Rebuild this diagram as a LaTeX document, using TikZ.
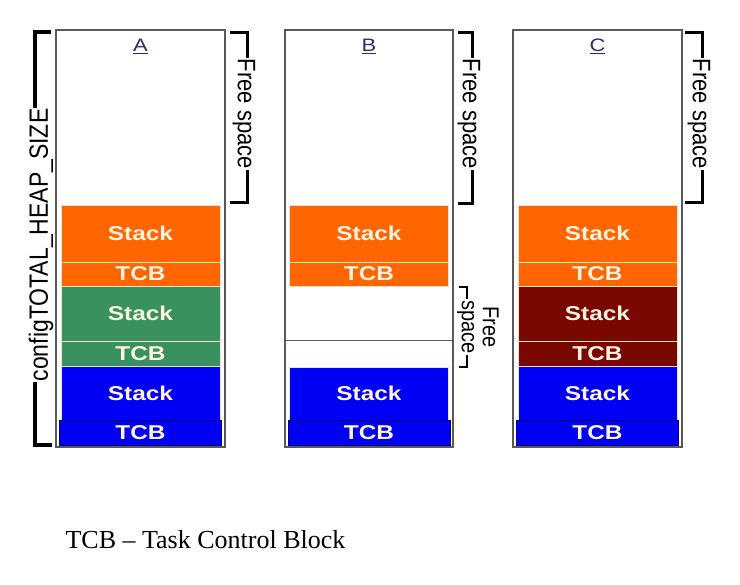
\documentclass[tikz,border=0pt]{standalone}
\usepackage{fontspec}
\setmainfont{Liberation Serif}
\setsansfont{Liberation Sans}
\usetikzlibrary{positioning}

\definecolor{taskorange}{RGB}{255,102,0}
\definecolor{taskgreen}{RGB}{58,145,96}
\definecolor{taskred}{RGB}{122,8,0}
\definecolor{taskblue}{RGB}{0,0,245}
\definecolor{tasknavy}{RGB}{0,0,120}
\definecolor{labelcream}{RGB}{255,244,228}
\definecolor{labelnavy}{RGB}{40,44,120}

% text is stretched sideways in the picture
\newcommand{\wtxt}[1]{\scalebox{1.22}[1]{#1}}
\newcommand{\tall}[1]{\scalebox{1}[1.15]{#1}}

\tikzset{
  heap/.style={draw=black!65, line width=1.3pt},
  blk/.style={draw=labelcream!85!gray, line width=0.7pt, anchor=north west, inner sep=0pt, outer sep=0pt,
    minimum width=159pt, text=labelcream, font=\sffamily\bfseries\fontsize{20}{22}\selectfont},
  tcbblue/.style={blk, fill=taskblue, draw=tasknavy, minimum width=162pt, minimum height=25pt},
  brace/.style={line width=3pt},
  side/.style={fill=white, inner sep=1pt, rotate=-90, font=\sffamily\fontsize{22}{24}\selectfont},
  title/.style={anchor=base, text=labelnavy, font=\sffamily\fontsize{18}{20}\selectfont}
}

\begin{document}
\begin{tikzpicture}[x=1pt, y=-1pt]
    \useasboundingbox (0,0) rectangle (740,585);

    % Heap size bracket on the left
    \draw[line width=4pt] (51,32) -- (35,32) -- (35,445) -- (52,445);
    \node[fill=white, inner sep=1pt, rotate=90, font=\sffamily\fontsize{23}{26}\selectfont] (heapsize) at (41,245) {\tall{configTOTAL\_HEAP\_SIZE}};

    % Columns A and C - same layout, different middle task
    \foreach \col/\x/\mid in {A/56/taskgreen, C/513/taskred}{
        \draw[heap] (\x,30) rectangle ++(169,417);
        \node[title] (title\col) at (\x+84.5,52) {\wtxt{\underline{\col}}};
        \node[blk, fill=taskorange, minimum height=57pt] (\col-stack1) at (\x+5,205) {\wtxt{Stack}};
        \node[blk, fill=taskorange, minimum height=24pt, below=0pt of \col-stack1] (\col-tcb1) {\wtxt{TCB}};
        \node[blk, fill=\mid, minimum height=55pt, below=0pt of \col-tcb1] (\col-stack2) {\wtxt{Stack}};
        \node[blk, fill=\mid, minimum height=25pt, below=0pt of \col-stack2] (\col-tcb2) {\wtxt{TCB}};
        \node[blk, fill=taskblue, minimum height=54pt, below=0pt of \col-tcb2] (\col-stack3) {\wtxt{Stack}};
        \node[tcbblue, below=0pt of \col-stack3] (\col-tcb3) {\wtxt{TCB}};
    }

    % Column B - middle task deleted
    \draw[heap] (285,30) rectangle (453,447);
    \draw[heap, line width=1pt] (285,341) -- (453,341);
    \node[title] (titleB) at (369,52) {\wtxt{\underline{B}}};
    \node[blk, fill=taskorange, minimum height=57pt] (B-stack1) at (289.5,205) {\wtxt{Stack}};
    \node[blk, fill=taskorange, minimum height=24pt, below=0pt of B-stack1] (B-tcb1) {\wtxt{TCB}};
    \node[blk, fill=taskblue, minimum height=53pt] (B-stack3) at (289.5,367) {\wtxt{Stack}};
    \node[tcbblue, below=0pt of B-stack3] (B-tcb3) {\wtxt{TCB}};

    % Free space brackets
    \draw[brace] (230,33) -- (247,33) -- (247,203) -- (230,203);
    \node[side] (freeA) at (244,114) {\tall{Free space}};
    \draw[brace] (458,33) -- (472,33) -- (472,204) -- (458,204);
    \node[side] (freeB) at (469,114) {\tall{Free space}};
    \draw[brace] (685,33) -- (702,33) -- (702,203) -- (685,203);
    \node[side] (freeC) at (699,114) {\tall{Free space}};

    % small gap in column B
    \draw[brace, line width=2pt] (459,287) -- (467,287) -- (467,367) -- (459,367);
    \node[side, align=center, font=\sffamily\fontsize{20}{21}\selectfont] (freeB2) at (478,327) {\tall{Free}\\\tall{space}};

    % Legend
    \node[anchor=base west, font=\fontsize{26}{30}\selectfont] (legend) at (62,549) {TCB -- Task Control Block};

\end{tikzpicture}
\end{document}
